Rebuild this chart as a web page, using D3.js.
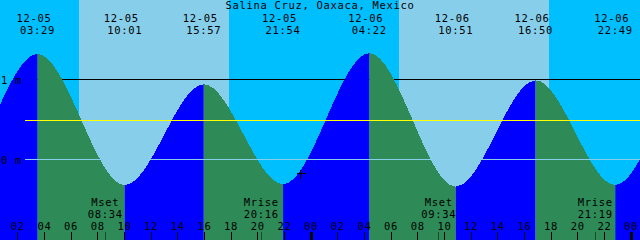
<!DOCTYPE html>
<html><head><meta charset="utf-8">
<script src="https://cdn.jsdelivr.net/npm/d3@7"></script>
<style>html,body{margin:0;padding:0;background:#fff;overflow:hidden}</style>
</head><body><svg id="c" width="640" height="240"></svg>
<script>
// ---------- data ----------
const title = "Salina Cruz, Oaxaca, Mexico";
const viewStart = "12-05 00:40";
const viewEnd = "12-07 00:40";
const tideTimes = ["12-04 14:25","12-04 20:54","12-05 03:29","12-05 10:01","12-05 15:57","12-05 21:54",
                   "12-06 04:22","12-06 10:51","12-06 16:50","12-06 22:49","12-07 05:19","12-07 11:45"];
const tideHeights = [0.97,-0.30,1.32,-0.32,0.94,-0.31,1.33,-0.34,0.99,-0.32,1.33,-0.35];
const sunriseTimes = ["12-05 06:35","12-06 06:35"];
const sunsetTimes = ["12-05 17:50","12-06 17:50"];
const moonNames = ["Mset","Mrise","Mset","Mrise"];
const moonTimes = ["12-05 08:34","12-05 20:16","12-06 09:34","12-06 21:19"];
const heightTicks = [0, 1];
const heightTickLabels = ["0 m", "1 m"];
const meanLevel = 0.49;
const nowTime = "12-05 23:10";
const nowHeight = -0.17;

// ---------- setup ----------
const W = 640, H = 240;
const parse = s => d3.timeParse("%Y-%m-%d %H:%M")("2024-" + s);
const x = d3.scaleTime().domain([parse(viewStart), parse(viewEnd)]).range([0, W]);
const y = d3.scaleLinear().domain([0, 1]).range([159.5, 79.5]);
const crisp = v => Math.floor(v) + 0.5;
const FONT = "'DejaVu Sans Mono', monospace";
const C = {night:"#00BFFF", day:"#87CEEB", rise:"#0000FF", fall:"#2E8B57"};

const svg = d3.select("#c");
const tides = tideTimes.map((t, i) => ({t: parse(t), h: tideHeights[i]}));

// background: night then day bands
svg.append("rect").attr("x",0).attr("y",0).attr("width",W).attr("height",H).attr("fill",C.night);
svg.selectAll("rect.day").data(sunriseTimes).join("rect").attr("class","day")
  .attr("x", (d,i) => Math.round(x(parse(d))))
  .attr("width", (d,i) => Math.round(x(parse(sunsetTimes[i]))) - Math.round(x(parse(d))))
  .attr("y",0).attr("height",H).attr("fill",C.day).attr("shape-rendering","crispEdges");

// 1 m datum line (behind the water)
svg.append("line").attr("x1",25).attr("x2",W).attr("y1",crisp(y(1))).attr("y2",crisp(y(1)))
  .attr("stroke","#000").attr("stroke-width",1).attr("shape-rendering","crispEdges");

// water area, split rising/falling
const area = d3.area().x(d => x(d.t)).y0(H).y1(d => y(d.h)).curve(d3.curveMonotoneX);
const defs = svg.append("defs");
for (let i = 0; i < tides.length - 1; i++) {
  const a = x(tides[i].t), b = x(tides[i+1].t);
  defs.append("clipPath").attr("id","seg"+i).append("rect")
    .attr("x", a).attr("width", b - a).attr("y", 0).attr("height", H);
  svg.append("path").datum(tides).attr("d", area)
    .attr("fill", tides[i+1].h > tides[i].h ? C.rise : C.fall)
    .attr("clip-path", "url(#seg"+i+")").attr("shape-rendering","crispEdges");
}

// 0 m line and mean level line (on top)
svg.append("line").attr("x1",25).attr("x2",W).attr("y1",crisp(y(0))).attr("y2",crisp(y(0)))
  .attr("stroke",C.day).attr("stroke-width",1).attr("shape-rendering","crispEdges");
svg.append("line").attr("x1",25).attr("x2",W).attr("y1",crisp(y(meanLevel))).attr("y2",crisp(y(meanLevel)))
  .attr("stroke","#FFFF00").attr("stroke-width",1).attr("shape-rendering","crispEdges");

// now marker
const nx = crisp(x(parse(nowTime))), ny = crisp(y(nowHeight));
svg.append("path").attr("d", `M${nx-4},${ny}H${nx+5}M${nx},${ny-4}V${ny+5}`)
  .attr("stroke","#000").attr("stroke-width",1).attr("shape-rendering","crispEdges");

const txt = (sel) => sel.attr("font-family", FONT).attr("font-size", 10.5)
  .attr("letter-spacing", "0.68px").attr("fill", "#000");

// title
txt(svg.append("text")).attr("x", W/2).attr("y", 9).attr("text-anchor","middle").text(title);

// tide extremes labels
const visible = tides.filter(d => x(d.t) >= 0 && x(d.t) <= W);
const fmtDate = d3.timeFormat("%m-%d"), fmtTime = d3.timeFormat("%H:%M");
txt(svg.selectAll("text.td").data(visible).join("text").attr("class","td"))
  .attr("x", d => x(d.t) - 3.5).attr("y", 21.5).attr("text-anchor","middle").text(d => fmtDate(d.t));
txt(svg.selectAll("text.tt").data(visible).join("text").attr("class","tt"))
  .attr("x", d => x(d.t)).attr("y", 34).attr("text-anchor","middle").text(d => fmtTime(d.t));

// height labels
txt(svg.selectAll("text.hl").data(heightTicks).join("text").attr("class","hl"))
  .attr("x", 1).attr("y", d => crisp(y(d)) + 4).text((d,i) => heightTickLabels[i]);

// hour axis
const hours = d3.timeHour.every(2).range(parse(viewStart), parse(viewEnd));
svg.selectAll("line.tk").data(hours).join("line").attr("class","tk")
  .attr("x1", d => crisp(x(d)))
  .attr("x2", d => crisp(x(d)))
  .attr("y1", 232).attr("y2", H)
  .attr("stroke","#000").attr("stroke-width", d => d.getHours() === 0 ? 3 : 1)
  .attr("shape-rendering","crispEdges");
txt(svg.selectAll("text.hr").data(hours).join("text").attr("class","hr"))
  .attr("x", d => x(d)).attr("y", 230).attr("text-anchor","middle").text(d3.timeFormat("%H"));

// moon events
const moons = moonTimes.map((t,i) => ({t: parse(t), name: moonNames[i]}));
svg.selectAll("line.mn").data(moons).join("line").attr("class","mn")
  .attr("x1", d => crisp(x(d.t))).attr("x2", d => crisp(x(d.t)))
  .attr("y1", 232).attr("y2", H).attr("stroke","#000").attr("stroke-opacity",0.45)
  .attr("shape-rendering","crispEdges");
txt(svg.selectAll("text.mn1").data(moons).join("text").attr("class","mn1"))
  .attr("x", d => x(d.t)).attr("y", 206).attr("text-anchor","middle").text(d => d.name);
txt(svg.selectAll("text.mn2").data(moons).join("text").attr("class","mn2"))
  .attr("x", d => x(d.t)).attr("y", 218).attr("text-anchor","middle").text(d => fmtTime(d.t));
</script>
</body></html>
